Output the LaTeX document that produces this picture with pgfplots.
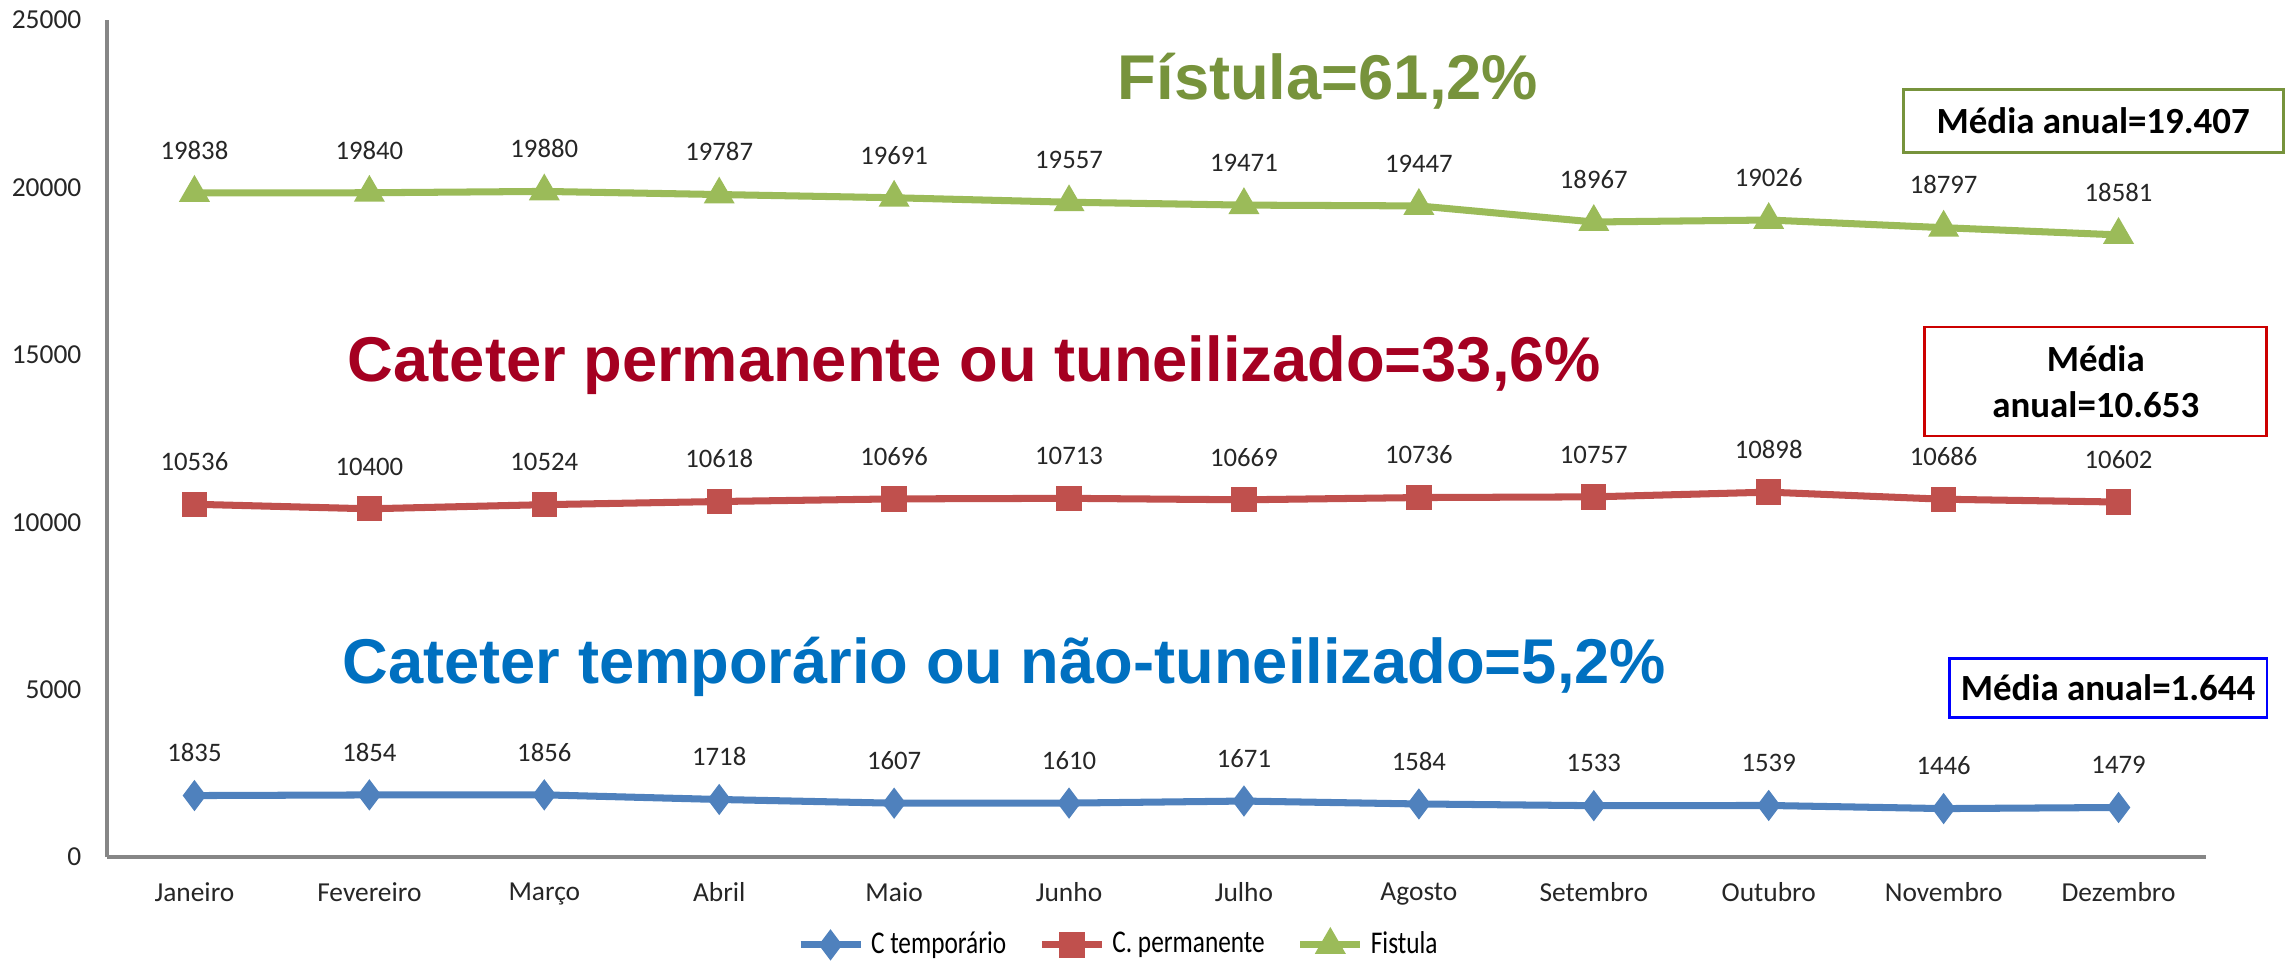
\documentclass[border=0pt]{standalone}
\usepackage{fontspec}
\usepackage{pgfplots}
\pgfplotsset{compat=1.18}
\setmainfont{Carlito}
\newfontfamily\titlefont{Liberation Sans}
\newfontfamily\legfont[FakeStretch=0.8]{Carlito}

\definecolor{cblue}{HTML}{4F81BD}
\definecolor{cred}{HTML}{C0504D}
\definecolor{cgreen}{HTML}{9BBB59}
\definecolor{tgreen}{HTML}{77933C}
\definecolor{tred}{HTML}{A50021}
\definecolor{tblue}{HTML}{0070C0}
\definecolor{axgray}{HTML}{868686}

\begin{document}
\begin{tikzpicture}
\begin{axis}[
  at={(0,0)},anchor=south west,
  width=20.99cm,height=8.37cm,scale only axis,
  xmin=-0.5,xmax=11.5,ymin=0,ymax=25000,
  xtick={0,...,11},
  xticklabels={Janeiro,Fevereiro,Março,Abril,Maio,Junho,Julho,Agosto,Setembro,Outubro,Novembro,Dezembro},
  ytick={0,5000,10000,15000,20000,25000},
  scaled y ticks=false,
  major tick length=0pt,
  axis x line*=bottom,axis y line*=left,
  axis line style={draw=axgray,line width=0.9pt},
  /pgf/number format/assume math mode=true,
  /pgf/number format/1000 sep={},
  tick label style={font=\fontsize{7.8}{9}\selectfont,text=black!85,inner sep=0pt},
  yticklabel style={xshift=-0.25cm},
  xticklabel style={yshift=-0.25cm},
  nodes near coords,
  point meta=y,
  nodes near coords style={font=\fontsize{7.6}{9}\selectfont,text=black!85,anchor=south,inner sep=0pt,yshift=0.3cm},
  legend style={at={(0.483,-0.105)},anchor=center,draw=none,legend columns=3,
    font=\legfont\fontsize{9}{10}\selectfont,
    /tikz/every even column/.append style={column sep=0.25cm}},
  clip=false,
]
\addplot[cblue,line width=2pt,mark=diamond*,mark size=2.8pt] coordinates {
(0,1835)(1,1854)(2,1856)(3,1718)(4,1607)(5,1610)(6,1671)(7,1584)(8,1533)(9,1539)(10,1446)(11,1479)};
\addlegendentry{C temporário}
\addplot[cred,line width=2pt,mark=square*,mark size=2.6pt] coordinates {
(0,10536)(1,10400)(2,10524)(3,10618)(4,10696)(5,10713)(6,10669)(7,10736)(8,10757)(9,10898)(10,10686)(11,10602)};
\addlegendentry{C. permanente}
\addplot[cgreen,line width=2pt,mark=triangle*,mark size=3.1pt] coordinates {
(0,19838)(1,19840)(2,19880)(3,19787)(4,19691)(5,19557)(6,19471)(7,19447)(8,18967)(9,19026)(10,18797)(11,18581)};
\addlegendentry{Fistula}

\node[anchor=base,text=tgreen,font=\titlefont\bfseries\fontsize{18}{20}\selectfont] at (axis cs:6.48,22640) {Fístula=61,2\%};
\node[anchor=base,text=tred,font=\titlefont\bfseries\fontsize{18}{20}\selectfont] at (axis cs:4.46,14188) {Cateter permanente ou tuneilizado=33,6\%};
\node[anchor=base,text=tblue,font=\titlefont\bfseries\fontsize{18}{20}\selectfont] at (axis cs:4.63,5197) {Cateter temporário ou não-tuneilizado=5,2\%};

\node[draw=tgreen,line width=0.8pt,fill=white,minimum width=3.8cm,minimum height=0.63cm,font=\bfseries\fontsize{10.5}{12.5}\selectfont] at (axis cs:10.855,21983) {Média anual=19.407};
\node[draw=red!80!black,line width=0.8pt,fill=white,minimum width=3.42cm,minimum height=1.09cm,align=center,font=\bfseries\fontsize{10.5}{13}\selectfont] at (axis cs:10.87,14202) {Média\\anual=10.653};
\node[draw=blue,line width=0.8pt,fill=white,minimum width=3.17cm,minimum height=0.59cm,font=\bfseries\fontsize{10.5}{12.5}\selectfont] at (axis cs:10.94,5048) {Média anual=1.644};
\end{axis}
\pgfresetboundingbox
\path (-1.07,-1.04) rectangle (21.81,8.57);
\end{tikzpicture}
\end{document}
